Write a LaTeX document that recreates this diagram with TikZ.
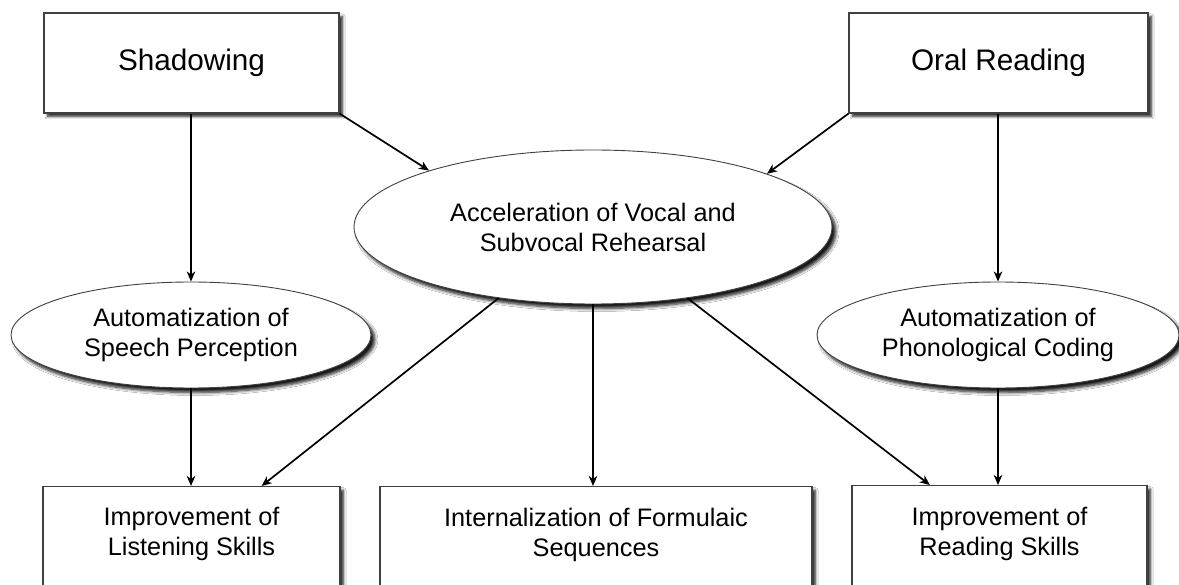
\documentclass[tikz,border=0pt]{standalone}
\usepackage{fontspec}
\setmainfont{Liberation Sans}
\usetikzlibrary{shapes.geometric,arrows.meta,shadows.blur,calc}

\tikzset{
  boxshadow/.style={blur shadow={shadow xshift=3.5pt,shadow yshift=-3.5pt,shadow opacity=85,shadow blur steps=6,shadow blur radius=2.5pt}},
  srcbox/.style={draw=black!75,line width=1.2pt,fill=white,rectangle,inner sep=0pt,boxshadow,
    font=\fontsize{29.7}{35.6}\selectfont},
  outbox/.style={draw=black!75,line width=1.2pt,fill=white,rectangle,inner sep=0pt,boxshadow},
  procell/.style={draw=black!75,line width=0.9pt,fill=white,ellipse,inner sep=0pt,align=center,
    blur shadow={shadow xshift=4pt,shadow yshift=-4.5pt,shadow opacity=90,shadow blur steps=6,shadow blur radius=3pt},
    font=\fontsize{25.3}{30}\selectfont},
  boxtext/.style={align=center,font=\fontsize{25.3}{30}\selectfont,inner sep=0pt},
  flow/.style={-{Stealth[length=10pt,width=8.5pt,inset=3pt]},line width=1.7pt,black},
}

\begin{document}
\begin{tikzpicture}[x=1pt,y=-1pt]
\useasboundingbox (0,0) rectangle (1179,585);
\clip (0,0) rectangle (1179,585);
\fill[white] (0,0) rectangle (1179,585);

% practice techniques
\node[srcbox,minimum width=295pt,minimum height=100pt] (shad) at (191.5,63) {Shadowing};
\node[srcbox,minimum width=299pt,minimum height=100pt] (oral) at (998.5,63) {Oral Reading};

% intermediate processes
\node[procell,minimum width=478pt,minimum height=154pt] (accel) at (593,227)
  {Acceleration of Vocal and\\Subvocal Rehearsal};
\node[procell,minimum width=360pt,minimum height=106pt] (speech) at (191,335)
  {Automatization of\\Speech Perception};
\node[procell,minimum width=362pt,minimum height=106pt] (phono) at (998,335)
  {Automatization of\\Phonological Coding};

% outcomes (continuing past the lower edge)
\node[outbox,minimum width=297pt,minimum height=140pt,anchor=north] (listen) at (191.5,486) {};
\node[outbox,minimum width=432pt,minimum height=140pt,anchor=north] (formul) at (596,486) {};
\node[outbox,minimum width=295pt,minimum height=140pt,anchor=north] (read) at (999.5,485) {};
\node[boxtext] (listenT) at (191.5,534) {Improvement of\\Listening Skills};
\node[boxtext] (formulT) at (596,535) {Internalization of Formulaic\\Sequences};
\node[boxtext] (readT) at (999.5,534) {Improvement of\\Reading Skills};

% connectors
\draw[flow] (speech.north |- shad.south) -- (speech.north);
\draw[flow] (phono.north |- oral.south) -- (phono.north);
\draw[flow] (shad.south east) -- (accel.161.6);
\draw[flow] (oral.south west) -- (accel.17.7);
\draw[flow] (speech.south) -- (speech.south |- listen.north);
\draw[flow] (phono.south) -- (phono.south |- read.north);
\draw[flow] (accel.south) -- (accel.south |- formul.north);
\draw[flow] (accel.217.3) -- ($(listen.north)!0.47!(listen.north east)$);
\draw[flow] (accel.-37.3) -- ($(read.north)!0.47!(read.north west)$);
\end{tikzpicture}
\end{document}
